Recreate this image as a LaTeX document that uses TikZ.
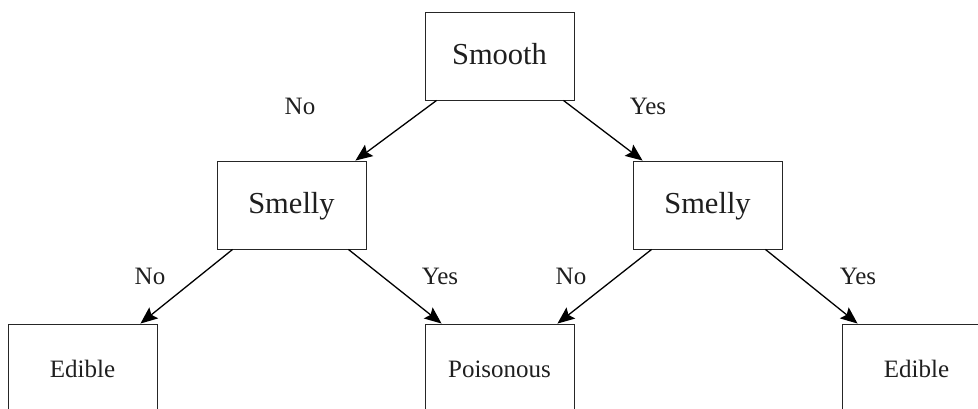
\documentclass[tikz,border=0pt]{standalone}
\usepackage{fontspec}
\setmainfont{Liberation Serif}
\usetikzlibrary{arrows.meta}
\begin{document}
\begin{tikzpicture}[x=1pt,y=-1pt,
  box/.style={draw=black!85,line width=0.9pt,minimum width=149pt,minimum height=88pt,inner sep=0pt,text height=18pt,text depth=0pt,text=black!88},
  bigtxt/.style={font=\fontsize{30.5}{32}\selectfont},
  smalltxt/.style={font=\fontsize{25}{26}\selectfont},
  lbl/.style={anchor=base,inner sep=0pt,text=black!88,font=\fontsize{25}{26}\selectfont},
  arr/.style={line width=1.3pt,-{Stealth[length=17pt,width=14pt,inset=3pt]}}]
\useasboundingbox (0,0) rectangle (978,409);
\clip (0,0) rectangle (978,409);
\node[box,bigtxt] (smooth) at (499.5,56) {Smooth};
\node[box,bigtxt] (lsmelly) at (291.5,205) {Smelly};
\node[box,bigtxt] (rsmelly) at (707.5,205) {Smelly};
\node[box,smalltxt] (ledible) at (82.5,368) {Edible};
\node[box,smalltxt] (poison) at (499.5,368) {Poisonous};
\node[box,smalltxt] (redible) at (916.5,368) {Edible};
\draw[arr] ([xshift=12pt]smooth.south west) -- ([xshift=-11pt]lsmelly.north east);
\draw[arr] ([xshift=-11pt]smooth.south east) -- ([xshift=10pt]rsmelly.north west);
\draw[arr] ([xshift=16pt]lsmelly.south west) -- ([xshift=-17pt]ledible.north east);
\draw[arr] ([xshift=-18pt]lsmelly.south east) -- ([xshift=17pt]poison.north west);
\draw[arr] ([xshift=19pt]rsmelly.south west) -- ([xshift=-17pt]poison.north east);
\draw[arr] ([xshift=-17pt]rsmelly.south east) -- ([xshift=16pt]redible.north west);
\node[lbl] (l1) at (300,115) {No};
\node[lbl] (l2) at (648,114.5) {Yes};
\node[lbl] (l3) at (150,284) {No};
\node[lbl] (l4) at (440,284) {Yes};
\node[lbl] (l5) at (571,284) {No};
\node[lbl] (l6) at (858,284) {Yes};
\end{tikzpicture}
\end{document}
